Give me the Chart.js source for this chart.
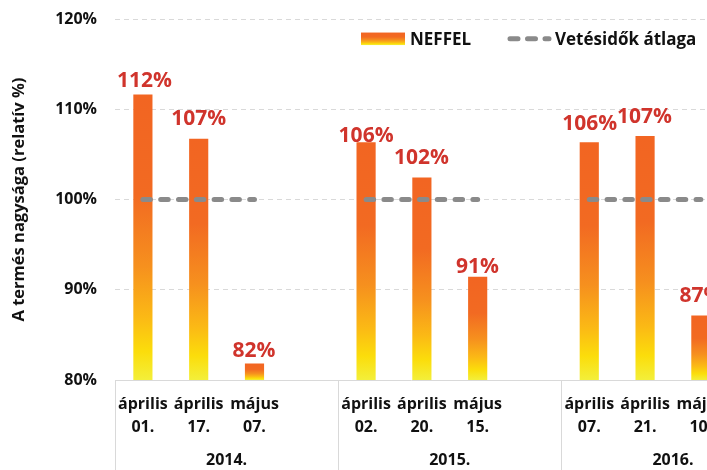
<!DOCTYPE html>
<html>
<head>
<meta charset="utf-8">
<script src="https://cdn.jsdelivr.net/npm/chart.js@4/dist/chart.umd.min.js"></script>
<style>
html,body{margin:0;padding:0;background:#fff;overflow:hidden}
#wrap{width:707px;height:470px;position:relative}
</style>
</head>
<body>
<div id="wrap"><canvas id="c"></canvas></div>
<script>
// ---- data ----
const yearGroups = ['2014.', '2015.', '2016.'];
const sowingDates = [
  ['április', '01.'], ['április', '17.'], ['május', '07.'],
  ['április', '02.'], ['április', '20.'], ['május', '15.'],
  ['április', '07.'], ['április', '21.'], ['május', '10.']
];
const neffelValues = [111.6, 106.7, 81.8, 106.3, 102.4, 91.4, 106.3, 107.0, 87.1];
const averageValues = [100, 100, 100, 100, 100, 100, 100, 100, 100];
const yTickValues = [80, 90, 100, 110, 120];
const seriesNames = ['NEFFEL', 'Vetésidők átlaga'];
const yAxisTitle = 'A termés nagysága (relatív %)';

// ---- layout helpers (category slots: 3 dates + 1 empty slot per year) ----
const datesPerGroup = sowingDates.length / yearGroups.length;
const slotsPerGroup = datesPerGroup + 1;
const slotOf = i => Math.floor(i / datesPerGroup) * slotsPerGroup + (i % datesPerGroup);
const dateSlots = sowingDates.map((_, i) => slotOf(i));

const barData = neffelValues.map((v, i) => ({x: slotOf(i), y: v}));
const lineData = [];
averageValues.forEach((v, i) => {
  lineData.push({x: slotOf(i), y: v});
  if (i % datesPerGroup === datesPerGroup - 1) lineData.push({x: slotOf(i) + 1, y: null});
});

const TEXT = '#111111';
const GRID = '#d9d9d9';
const LINE_GRAY = '#8a8a8a';
const gradStops = [[0, '#F26522'], [0.35, '#F26A22'], [0.6, '#F6901E'], [0.78, '#FBB915'], [0.9, '#FBDD0B'], [1, '#F3EF3A']];
function makeGradient(ctx, top, bottom) {
  const g = ctx.createLinearGradient(0, top, 0, bottom);
  gradStops.forEach(s => g.addColorStop(s[0], s[1]));
  return g;
}

Chart.defaults.font.family = '"Open Sans", sans-serif';
Chart.defaults.font.weight = 'bold';
Chart.defaults.color = TEXT;

const valueLabels = {
  id: 'valueLabels',
  afterDatasetsDraw(chart, args, opts) {
    const meta = chart.getDatasetMeta(0);
    const ctx = chart.ctx;
    ctx.save();
    ctx.font = 'bold 21px "Open Sans"';
    ctx.fillStyle = opts.color;
    ctx.textAlign = 'center';
    ctx.textBaseline = 'alphabetic';
    meta.data.forEach((el, i) => {
      const n = opts.nudges[i] || [0, -6];
      ctx.fillText(Math.round(neffelValues[i]) + '%', el.x + n[0], el.y + n[1]);
    });
    ctx.restore();
  }
};

const groupFrame = {
  id: 'groupFrame',
  afterDraw(chart) {
    const ctx = chart.ctx, xs = chart.scales.x, area = chart.chartArea;
    ctx.save();
    ctx.strokeStyle = GRID;
    ctx.lineWidth = 1;
    for (let g = 0; g <= yearGroups.length; g++) {
      const px = Math.round(xs.getPixelForValue(g * slotsPerGroup - 0.5)) + 0.5;
      ctx.beginPath();
      ctx.moveTo(px, area.bottom);
      ctx.lineTo(px, chart.height);
      ctx.stroke();
    }
    ctx.restore();
  }
};

const customLegend = {
  id: 'customLegend',
  afterDraw(chart, args, o) {
    const ctx = chart.ctx;
    const ds = chart.data.datasets;
    ctx.save();
    ctx.font = 'bold 17px "Open Sans"';
    ctx.textBaseline = 'alphabetic';
    ctx.fillStyle = makeGradient(ctx, o.cy - 6.25, o.cy + 6.25);
    ctx.fillRect(o.x1, o.cy - 6.25, 44, 12.5);
    ctx.fillStyle = TEXT;
    ctx.fillText(ds[0].label, o.t1, o.cy + 6);
    ctx.strokeStyle = LINE_GRAY;
    ctx.lineWidth = 5;
    ctx.lineCap = 'round';
    ctx.setLineDash([8, 9.5]);
    ctx.beginPath();
    ctx.moveTo(o.x2, o.cy);
    ctx.lineTo(o.x2 + 39, o.cy);
    ctx.stroke();
    ctx.setLineDash([]);
    ctx.fillText(ds[1].label, o.t2, o.cy + 6);
    ctx.restore();
  }
};

new Chart(document.getElementById('c'), {
  type: 'bar',
  data: {
    datasets: [
      {
        label: seriesNames[0],
        data: barData,
        order: 1,
        barThickness: 18.5,
        backgroundColor(ctx) {
          const chart = ctx.chart;
          if (ctx.type !== 'data' || !chart.chartArea) return gradStops[0][1];
          const ys = chart.scales.y;
          return makeGradient(chart.ctx, ys.getPixelForValue(ctx.raw.y), ys.getPixelForValue(ys.min));
        },
        borderWidth: 0
      },
      {
        type: 'line',
        label: seriesNames[1],
        data: lineData,
        order: 0,
        borderColor: LINE_GRAY,
        borderWidth: 5,
        borderDash: [7.5, 10.3],
        borderCapStyle: 'round',
        pointRadius: 0,
        spanGaps: false,
        fill: false
      }
    ]
  },
  options: {
    responsive: true,
    maintainAspectRatio: false,
    animation: false,
    events: [],
    layout: {padding: {top: 19, left: 0, right: 0, bottom: 0}},
    plugins: {
      legend: {display: false},
      tooltip: {enabled: false},
      valueLabels: {
        color: '#D0342C',
        nudges: [[1.5, -8.3], [0, -13.7], [-0.5, -6.5], [0, -1.1], [-0.4, -14.3], [-0.2, -3.9], [0.4, -12.7], [-0.5, -13.8], [0, -13.5]]
      },
      customLegend: {x1: 361, t1: 410, x2: 510, t2: 555, cy: 38.8}
    },
    scales: {
      x: {
        type: 'linear',
        position: 'bottom',
        min: -0.5,
        max: 10.11,
        offset: false,
        weight: 0,
        afterBuildTicks(scale) { scale.ticks = dateSlots.map(v => ({value: v})); },
        afterFit(scale) { scale.height = 65; scale.paddingLeft = 0; scale.paddingRight = 0; },
        ticks: {
          autoSkip: false, maxRotation: 0, minRotation: 0, padding: 12.5,
          color: TEXT,
          font: {size: 16, weight: 'bold', lineHeight: 1.44},
          callback(value) { const i = dateSlots.indexOf(value); return i >= 0 ? sowingDates[i] : ''; }
        },
        grid: {display: false, drawTicks: false},
        border: {display: true, color: GRID, width: 1}
      },
      x2: {
        type: 'linear',
        position: 'bottom',
        axis: 'x',
        min: -0.5,
        max: 10.11,
        offset: false,
        weight: 1,
        afterBuildTicks(scale) { scale.ticks = yearGroups.map((_, g) => ({value: g * slotsPerGroup + (slotsPerGroup - 1) / 2})); },
        afterFit(scale) { scale.height = 25; scale.paddingLeft = 0; scale.paddingRight = 0; },
        ticks: {
          autoSkip: false, maxRotation: 0, minRotation: 0, padding: 6,
          color: TEXT,
          font: {size: 16, weight: 'bold'},
          callback(value, index) { return yearGroups[index]; }
        },
        grid: {display: false, drawTicks: false},
        border: {display: false}
      },
      y: {
        min: 80,
        max: 120,
        afterBuildTicks(scale) { scale.ticks = yTickValues.map(v => ({value: v})); },
        afterFit(scale) { scale.width = 115; scale.paddingTop = 0; scale.paddingBottom = 0; },
        ticks: {
          padding: 18,
          color: TEXT,
          font: {size: 16, weight: 'bold'},
          callback: v => v + '%'
        },
        grid: {
          drawTicks: false,
          color: c => (c.tick && c.tick.value === yTickValues[0]) ? 'rgba(0,0,0,0)' : GRID,
          lineWidth: 1
        },
        border: {display: false, dash: [5, 4]},
        title: {
          display: true,
          text: yAxisTitle,
          color: TEXT,
          font: {size: 16.5, weight: 'bold'},
          padding: {top: 9.6, bottom: 0}
        }
      }
    }
  },
  plugins: [valueLabels, groupFrame, customLegend]
});
</script>
</body>
</html>
